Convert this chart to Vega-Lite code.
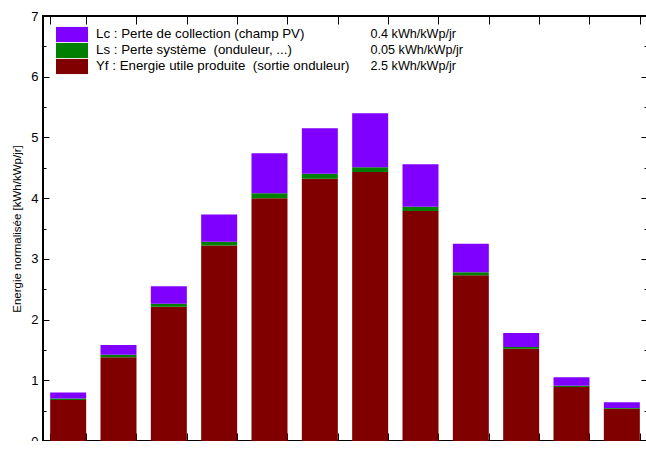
{
  "$schema": "https://vega.github.io/schema/vega-lite/v6.json",
  "width": 604,
  "height": 425,
  "autosize": {"type": "none"},
  "padding": {"left": 43, "top": 16, "right": 0, "bottom": 0},
  "background": "white",
  "config": {
    "font": "Liberation Sans",
    "view": {"stroke": "black", "strokeWidth": 2},
    "axis": {"domain": false, "grid": false, "labelColor": "black", "tickColor": "black", "titleColor": "black", "labelFont": "Liberation Sans", "titleFont": "Liberation Sans", "titleFontWeight": "normal"}
  },
  "datasets": {
    "legend": [
      {"component": "Lc", "label": "Lc : Perte de collection (champ PV)", "annual": "0.4 kWh/kWp/jr", "ord": 3},
      {"component": "Ls", "label": "Ls : Perte système\u00a0 (onduleur, ...)", "annual": "0.05 kWh/kWp/jr", "ord": 2},
      {"component": "Yf", "label": "Yf : Energie utile produite\u00a0 (sortie onduleur)", "annual": "2.5 kWh/kWp/jr", "ord": 1}
    ]
  },
  "data": {
    "values": [
      {"month": "Jan", "component": "Yf", "value": 0.675}, {"month": "Jan", "component": "Ls", "value": 0.025}, {"month": "Jan", "component": "Lc", "value": 0.10},
      {"month": "Fév", "component": "Yf", "value": 1.38}, {"month": "Fév", "component": "Ls", "value": 0.04}, {"month": "Fév", "component": "Lc", "value": 0.16},
      {"month": "Mar", "component": "Yf", "value": 2.21}, {"month": "Mar", "component": "Ls", "value": 0.05}, {"month": "Mar", "component": "Lc", "value": 0.29},
      {"month": "Avr", "component": "Yf", "value": 3.22}, {"month": "Avr", "component": "Ls", "value": 0.06}, {"month": "Avr", "component": "Lc", "value": 0.45},
      {"month": "Mai", "component": "Yf", "value": 4.00}, {"month": "Mai", "component": "Ls", "value": 0.08}, {"month": "Mai", "component": "Lc", "value": 0.66},
      {"month": "Jun", "component": "Yf", "value": 4.32}, {"month": "Jun", "component": "Ls", "value": 0.08}, {"month": "Jun", "component": "Lc", "value": 0.75},
      {"month": "Jui", "component": "Yf", "value": 4.43}, {"month": "Jui", "component": "Ls", "value": 0.08}, {"month": "Jui", "component": "Lc", "value": 0.89},
      {"month": "Aoû", "component": "Yf", "value": 3.79}, {"month": "Aoû", "component": "Ls", "value": 0.07}, {"month": "Aoû", "component": "Lc", "value": 0.70},
      {"month": "Sep", "component": "Yf", "value": 2.73}, {"month": "Sep", "component": "Ls", "value": 0.05}, {"month": "Sep", "component": "Lc", "value": 0.47},
      {"month": "Oct", "component": "Yf", "value": 1.52}, {"month": "Oct", "component": "Ls", "value": 0.03}, {"month": "Oct", "component": "Lc", "value": 0.23},
      {"month": "Nov", "component": "Yf", "value": 0.89}, {"month": "Nov", "component": "Ls", "value": 0.02}, {"month": "Nov", "component": "Lc", "value": 0.14},
      {"month": "Déc", "component": "Yf", "value": 0.53}, {"month": "Déc", "component": "Ls", "value": 0.015}, {"month": "Déc", "component": "Lc", "value": 0.095}
    ]
  },
  "transform": [
    {"lookup": "component", "from": {"data": {"name": "legend"}, "key": "component", "fields": ["label", "annual", "ord"]}}
  ],
  "layer": [
    {
      "mark": {"type": "bar"},
      "encoding": {
        "x": {
          "field": "month", "type": "nominal", "sort": null,
          "scale": {"paddingInner": 0.285, "paddingOuter": 0.1425},
          "axis": {"orient": "bottom", "title": null, "labelAngle": 0, "labelFontSize": 13, "tickBand": "extent", "tickSize": -8, "tickWidth": 1, "labelPadding": 12}
        },
        "y": {
          "field": "value", "type": "quantitative", "aggregate": "sum", "stack": "zero",
          "scale": {"domain": [0, 7], "nice": false},
          "axis": {
            "orient": "left", "title": "Energie normalisée [kWh/kWp/jr]", "titleFontSize": 11.5, "titlePadding": 8,
            "values": [0, 0.5, 1, 1.5, 2, 2.5, 3, 3.5, 4, 4.5, 5, 5.5, 6, 6.5, 7],
            "labelExpr": "datum.value % 1 ? '' : format(datum.value, 'd')",
            "labelFontSize": 13, "labelPadding": 11,
            "tickSize": {"condition": {"test": "datum.value % 1 !== 0", "value": -3}, "value": -6},
            "tickWidth": 1
          }
        },
        "color": {
          "field": "label", "type": "nominal",
          "scale": {
            "domain": ["Lc : Perte de collection (champ PV)", "Ls : Perte système\u00a0 (onduleur, ...)", "Yf : Energie utile produite\u00a0 (sortie onduleur)"],
            "range": ["#8000FF", "#008000", "#800000"]
          },
          "legend": {
            "orient": "none", "legendX": 13, "legendY": 10.7, "title": null, "padding": 0,
            "symbolType": "M-1,-0.485H1V0.485H-1Z", "symbolSize": 1024, "symbolStrokeWidth": 0, "symbolOpacity": 1,
            "clipHeight": 15.5, "rowPadding": 0, "labelOffset": 8, "labelFontSize": 13.3, "labelFont": "Liberation Sans", "labelColor": "black", "labelLimit": 400
          }
        },
        "opacity": {
          "field": "annual", "type": "ordinal",
          "scale": {"domain": ["0.4 kWh/kWp/jr", "0.05 kWh/kWp/jr", "2.5 kWh/kWp/jr"], "range": [1, 1, 1]},
          "legend": {
            "orient": "none", "legendX": 315, "legendY": 10.7, "title": null, "padding": 0,
            "symbolSize": 0, "symbolOpacity": 0, "symbolStrokeWidth": 0,
            "clipHeight": 15.5, "rowPadding": 0, "labelOffset": 0, "labelFontSize": 12.6, "labelFont": "Liberation Sans", "labelColor": "black", "labelLimit": 300
          }
        },
        "order": {"field": "ord", "type": "quantitative", "sort": "ascending"}
      }
    },
    {
      "mark": {"type": "bar", "opacity": 0},
      "encoding": {
        "x": {
          "field": "month", "type": "nominal", "sort": null,
          "axis": {"orient": "top", "title": null, "labels": false, "tickBand": "extent", "tickSize": -8, "tickWidth": 1}
        },
        "y": {
          "field": "value", "type": "quantitative", "aggregate": "sum",
          "scale": {"domain": [0, 7], "nice": false},
          "axis": {
            "orient": "right", "title": null, "labels": false,
            "values": [0, 0.5, 1, 1.5, 2, 2.5, 3, 3.5, 4, 4.5, 5, 5.5, 6, 6.5, 7],
            "tickSize": {"condition": {"test": "datum.value % 1 !== 0", "value": -3}, "value": -6},
            "tickWidth": 1
          }
        }
      }
    }
  ],
  "resolve": {"axis": {"x": "independent", "y": "independent"}}
}
